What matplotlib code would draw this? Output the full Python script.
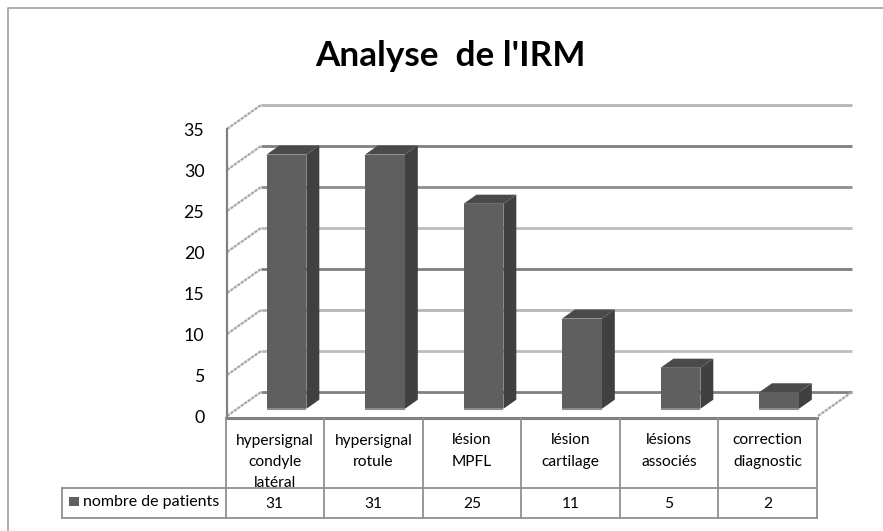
import matplotlib
matplotlib.use("Agg")
import matplotlib.pyplot as plt
from matplotlib.patches import Polygon, Rectangle

categories = ["hypersignal\ncondyle\nlatéral", "hypersignal\nrotule", "lésion\nMPFL",
              "lésion\ncartilage", "lésions\nassociés", "correction\ndiagnostic"]
patients = [31, 31, 25, 11, 5, 2]
y_ticks = [0, 5, 10, 15, 20, 25, 30, 35]
grid_colors = ["#808080", "#bcbcbc", "#b4b4b4", "#808080", "#bcbcbc", "#8e8e8e", "#808080", "#b4b4b4"]
series_name = "nombre de patients"
title = "Analyse  de l'IRM"

W, H = 883, 531
FACE = "#5f5f5f"
SIDE = "#404040"
TOP = "#4a4a4a"
LINE = "#8a8a8a"
plt.rcParams["font.family"] = ["Lato", "DejaVu Sans"]

fig = plt.figure(figsize=(W / 100, H / 100), dpi=100)

# frame of the whole chart, in pixels
bg = fig.add_axes([0, 0, 1, 1])
bg.set_xlim(0, W)
bg.set_ylim(H, 0)
bg.axis("off")
bg.plot([8, 8, 883], [531, 8, 8], color="#a0a0a0", lw=1.2)
bg.text(450, 56, title, ha="center", va="center", fontsize=25.3, fontweight="bold", color="black")

# plot plane: x in category units, y in patients
x0, x1, y0, y35 = 227, 818, 416, 129
ax = fig.add_axes([x0 / W, 1 - y0 / H, (x1 - x0) / W, (y0 - y35) / H])
ax.set_xlim(0, 6)
ax.set_ylim(0, 35)
ax.axis("off")

DX = 34 / 98.5
DY = 24 / 8.2


def proj(x, v, d):
    return x + d * DX, v + d * DY


# walls and gridlines
for t, col in zip(y_ticks, grid_colors):
    back_l = proj(0, t, 1)
    back_r = proj(6, t, 1)
    ax.plot([back_l[0], back_r[0]], [back_l[1], back_r[1]], color=col, lw=2, clip_on=False, zorder=1,
            solid_capstyle="butt")
    ax.plot([0, back_l[0]], [t, back_l[1]], color="#a8a8a8", lw=1.6, ls=(0, (1.5, 0.4)), clip_on=False, zorder=1)
    ax.text(-0.23, t - 0.3, str(t), ha="right", va="center", fontsize=12.8, color="black", clip_on=False)
ax.plot([0, 0], [0, 35], color="#808080", lw=1.6, clip_on=False, zorder=2)
fr = proj(6, 0, 1)
ax.plot([6, fr[0]], [0, fr[1]], color="#a8a8a8", lw=1.6, ls=(0, (1.5, 0.4)), clip_on=False, zorder=1)

# bars
d_front, d_back = 0.30, 0.68
bar_w = 0.405
for i, v in enumerate(patients):
    l = i + 0.5 - bar_w / 2
    r = l + bar_w
    a = proj(l, 0, d_front)
    b = proj(r, 0, d_front)
    c = proj(r, v, d_front)
    e = proj(l, v, d_front)
    b2 = proj(r, 0, d_back)
    c2 = proj(r, v, d_back)
    e2 = proj(l, v, d_back)
    ax.add_patch(Polygon([b, b2, c2, c], fc=SIDE, ec="none", zorder=3, clip_on=False))
    ax.add_patch(Polygon([e, c, c2, e2], fc=TOP, ec="none", zorder=3, clip_on=False))
    ax.add_patch(Polygon([a, b, c, e], fc=FACE, ec="none", zorder=4, clip_on=False))
    ax.plot([a[0], b[0]], [a[1], b[1]], color=LINE, lw=1.5, zorder=5, clip_on=False, solid_capstyle="butt")

# data table under the plot, with one column per category
tx0, tx1, ty0, ty1 = 225.5, 817, 418, 518
cell = (tx1 - tx0) / 6
tb = fig.add_axes([tx0 / W, 1 - ty1 / H, (tx1 - tx0) / W, (ty1 - ty0) / H])
tb.set_xlim(0, 6)
tb.set_ylim(1, 0)
tb.axis("off")
split = 0.70
left = -(tx0 - 62) / cell
for i, (c, v) in enumerate(zip(categories, patients)):
    tb.text(i + 0.5, 0.155, c, ha="center", va="top", fontsize=11.2, linespacing=1.64, clip_on=False, zorder=1)
tb.add_patch(Rectangle((left, split), 6 - left, 1 - split, fc="white", ec="none", clip_on=False, zorder=2))
for i, v in enumerate(patients):
    tb.text(i + 0.5, 0.855, str(v), ha="center", va="center", fontsize=11.2, clip_on=False, zorder=3)
tb.plot([0, 6], [0, 0], color="#808080", lw=2.2, clip_on=False, zorder=3)
tb.plot([left, 6], [split, split], color="#909090", lw=1.3, clip_on=False, zorder=3)
tb.plot([left, 6], [1, 1], color="#909090", lw=1.3, clip_on=False, zorder=3)
tb.plot([left, left], [split, 1], color="#909090", lw=1.3, clip_on=False, zorder=3)
for i in range(7):
    tb.plot([i, i], [0, 1], color="#909090", lw=1.3, clip_on=False, zorder=3)
tb.add_patch(Rectangle(((69 - tx0) / cell, 0.79), 10 / cell, 0.09, fc=FACE, ec="none", clip_on=False, zorder=3))
tb.text((83 - tx0) / cell, 0.84, series_name, ha="left", va="center", fontsize=11.5, clip_on=False, zorder=3)

fig.savefig("out.png", dpi=100)
